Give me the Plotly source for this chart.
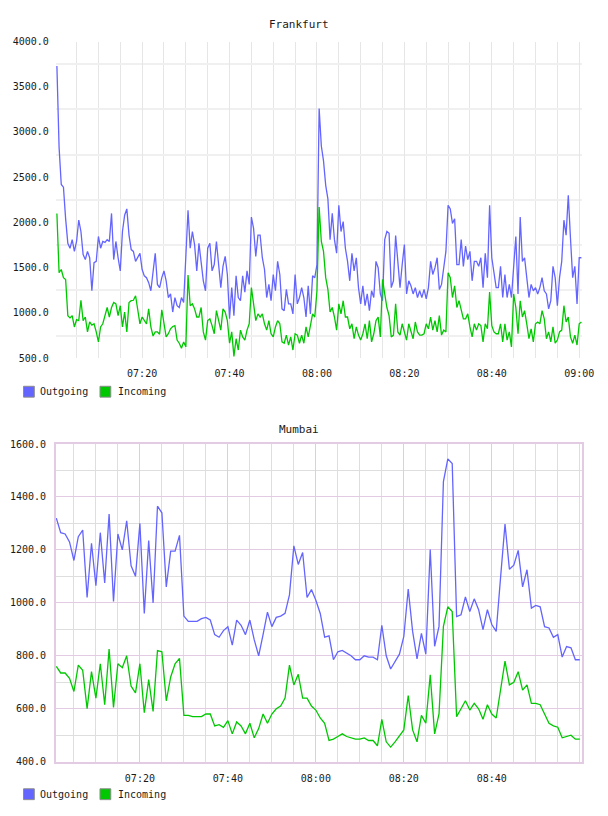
import plotly.graph_objects as go
import pandas as pd

# ---------------- data ----------------
fr_out = [3730, 2830, 2420, 2390, 2040, 1770, 1715, 1810, 1680, 1790,
          2025, 1900, 1645, 1590, 1680, 1610, 1245, 1555, 1570, 1845,
          1715, 1790, 1780, 1810, 1790, 2100, 1590, 1790, 1610, 1465,
          1900, 2080, 2150, 1860, 1700, 1680, 1570, 1625, 1660, 1480,
          1410, 1390, 1335, 1245, 1465, 1660, 1315, 1280, 1390, 1465,
          1355, 1170, 1210, 1010, 1170, 1080, 1060, 1170, 1115, 1610,
          2135,
          1715, 1900, 1755, 1465, 1770, 1535, 1355, 1245, 1715,
          1770, 1465, 1535, 1790, 1535, 1280, 1515, 1625, 1425, 935,
          1280, 970, 1410, 1170, 1135, 1410, 1230, 1465, 1315, 2060,
          1935, 1625, 1860, 1860, 1610, 1480, 1170, 1315, 1135, 1425,
          1245, 1570, 1425, 1045, 1025, 1260, 1100, 1100, 990, 1425,
          1100, 1170, 1280, 1170, 955, 1300, 990, 1410, 1390, 1535,
          3260,
          2845, 2680, 2410, 2260, 1810, 2100, 1810, 1660, 2190,
          1900, 2010, 1715, 1570, 1355, 1660, 1465, 1610, 1280, 1100,
          1300, 1080, 1210, 1025, 1245, 1170, 1570, 1500, 1210, 1135,
          1810, 1900, 1880, 1280, 1355, 1855, 1570, 1280, 1535, 1755,
          1210, 1355, 1300, 1210, 1280, 1170, 1245, 1170, 1260, 1155,
          1280, 1570, 1425, 1500, 1610, 1260, 1315, 1535, 1680, 2190,
          2150, 1990, 2040, 1535, 1535, 1810, 1515, 1740, 1590, 1680,
          1355, 1570, 1570, 1515, 1610, 1280, 1660, 1390, 2190, 1610,
          1465, 1280, 1280, 1515, 1170, 1425, 1170, 1315, 1170, 1570,
          1845, 1210, 2060, 1570, 1610, 1390, 1170, 1315, 1245, 1280,
          1210, 1280, 1390, 1245, 1210, 1045, 1135, 1515, 1390, 1080,
          1390, 1570, 2025, 1860, 2300, 1825, 1390, 1515, 1100, 1610,
          1610]

fr_in = [2100, 1445, 1480, 1390, 1370, 970, 945, 970, 845, 925,
         915, 1140, 915, 955, 790, 900, 865, 880, 790, 680,
         845, 880, 970, 1060, 955, 1060, 1115, 1100, 970, 1080,
         845, 1010, 790, 1115, 1135, 1140, 1190, 1045, 880, 955,
         915, 880, 1045, 845, 745, 790, 790, 765, 1035, 900,
         735, 770, 825, 850, 860, 700, 665, 610, 680, 625,
         1420,
         1080, 1100, 1045, 955, 955, 1060, 790, 700, 915,
         935, 860, 770, 1025, 900, 810, 1045, 1010, 915, 665,
         790, 520, 715, 590, 810, 735, 700, 810, 880, 1280,
         1100, 915, 990, 955, 990, 880, 810, 915, 770, 735,
         845, 915, 880, 680, 665, 755, 645, 735, 590, 770,
         755, 665, 755, 665, 845, 735, 860, 990, 955, 1245,
         2170,
         1790, 1680, 1390, 1260, 1010, 1060, 955, 810, 1100,
         990, 1135, 955, 955, 825, 880, 715, 845, 755, 700,
         770, 880, 715, 915, 680, 770, 915, 955, 735, 1370,
         1210, 1060, 970, 735, 755, 1100, 790, 755, 880, 790,
         700, 880, 790, 715, 900, 790, 755, 755, 770, 880,
         825, 955, 810, 915, 790, 970, 755, 810, 790, 1445,
         1390, 1170, 1300, 1060, 1135, 1025, 935, 935, 990, 845,
         735, 880, 810, 880, 860, 680, 880, 825, 1230, 860,
         790, 770, 770, 880, 680, 880, 700, 790, 625, 1210,
         1060, 770, 1135, 955, 1025, 880, 715, 825, 680, 880,
         900, 880, 1025, 935, 715, 790, 680, 845, 665, 700,
         790, 810, 1080, 900, 955, 735, 665, 755, 645, 880,
         900]

mu_out = [1320, 1265, 1260, 1230, 1160, 1250, 1275, 1020, 1225, 1065,
          1265, 1075, 1335, 1005, 1260, 1200, 1310, 1140, 1100, 1300,
          960, 1235, 1000, 1365, 1340, 1060, 1195, 1195, 1255, 950,
          930, 930, 930, 940, 945, 935, 880, 870, 895, 910,
          840, 935, 915, 880, 935, 860, 800, 880, 965, 910,
          945, 950, 960, 1030, 1215, 1145, 1190, 1020, 1050, 1010,
          960, 870, 875, 785, 815, 820, 810, 800, 785, 785,
          800, 795, 795, 785, 915, 800, 750, 780, 806, 873,
          1052, 892, 788, 885, 806, 1201, 836, 911, 1458, 1544,
          1526, 948, 955, 1022, 967, 1015, 974, 899, 974, 918,
          892, 1097, 1298, 1127, 1142, 1198, 1060, 1125, 980, 990,
          985, 910, 905, 870, 880, 795, 835, 830, 785, 785]

mu_in = [760, 735, 735, 715, 665, 765, 745, 600, 740, 640,
         770, 615, 825, 605, 770, 755, 800, 685, 660, 770,
         585, 710, 590, 820, 815, 630, 720, 770, 790, 575,
         575, 570, 570, 570, 580, 580, 535, 540, 530, 555,
         505, 550, 535, 505, 545, 490, 525, 580, 545, 580,
         600, 610, 640, 765, 690, 730, 640, 640, 610, 595,
         565, 545, 480, 485, 495, 505, 495, 490, 485, 485,
         490, 480, 480, 460, 560, 475, 455, 475, 500, 520,
         650, 520, 475, 575, 545, 728, 505, 580, 911, 985,
         967, 570, 600, 630, 595, 620, 600, 560, 615, 580,
         565, 680, 780, 690, 700, 740, 670, 690, 620, 620,
         615, 580, 545, 535, 530, 490, 495, 500, 485, 485]

fr_times = pd.date_range("2024-01-01 07:00:30", periods=len(fr_out), freq="30s")
mu_times = pd.date_range("2024-01-01 07:01:00", periods=len(mu_out), freq="60s")

fr_yticks = [500, 1000, 1500, 2000, 2500, 3000, 3500, 4000]
fr_ygrid = [750, 1250, 1750, 2250, 2750, 3250, 3750]
mu_yticks = [400, 600, 800, 1000, 1200, 1400, 1600]
mu_ygrid = [500, 700, 900, 1100, 1300, 1500]
fr_xticks = ["2024-01-01 07:20", "2024-01-01 07:40", "2024-01-01 08:00",
             "2024-01-01 08:20", "2024-01-01 08:40", "2024-01-01 09:00"]
mu_xticks = fr_xticks[:5]
series_names = ["Outgoing", "Incoming"]
titles = ["Frankfurt", "Mumbai"]

# ---------------- styling ----------------
W, H = 608, 816
BLUE = "#6464ff"
GREEN = "#00c800"
FONT = "DejaVu Sans Mono"
TXT = "#1a1a1a"
GRID_LIGHT = "#e6e6e6"
GRID_H = "#f0f0f0"
MAJOR = "#e3cbe3"
MINOR = "#dedede"

def px_x(px):
    return px / W

def px_y(py):
    return 1 - py / H

fig = go.Figure()

fig.add_trace(go.Scatter(x=fr_times, y=fr_out, mode="lines", name=series_names[0],
                         line=dict(color=BLUE, width=1.3), xaxis="x", yaxis="y",
                         showlegend=False))
fig.add_trace(go.Scatter(x=fr_times, y=fr_in, mode="lines", name=series_names[1],
                         line=dict(color=GREEN, width=1.3), xaxis="x", yaxis="y",
                         showlegend=False))
fig.add_trace(go.Scatter(x=mu_times, y=mu_out, mode="lines", name=series_names[0],
                         line=dict(color=BLUE, width=1.3), xaxis="x2", yaxis="y2",
                         showlegend=False))
fig.add_trace(go.Scatter(x=mu_times, y=mu_in, mode="lines", name=series_names[1],
                         line=dict(color=GREEN, width=1.3), xaxis="x2", yaxis="y2",
                         showlegend=False))

xdom = [px_x(57), px_x(594)]
tickfont = dict(family=FONT, size=10, color=TXT)

fig.update_layout(
    width=W, height=H,
    margin=dict(l=0, r=0, t=0, b=0),
    paper_bgcolor="white", plot_bgcolor="white",
    hovermode=False,
    xaxis=dict(domain=xdom, anchor="y", type="date",
               range=["2024-01-01 07:00:16", "2024-01-01 09:00:42"],
               tickvals=fr_xticks, tickformat="%H:%M", tickfont=tickfont,
               showgrid=True, gridcolor=GRID_LIGHT, gridwidth=1,
               minor=dict(dtick=300000, tick0="2024-01-01 07:00:00",
                          showgrid=True, gridcolor=GRID_LIGHT, gridwidth=1),
               showline=False, zeroline=False, ticks="", ticklabelstandoff=8),
    yaxis=dict(domain=[px_y(358), px_y(37)], anchor="x",
               range=[500, 4000], tickvals=fr_yticks, tickformat=".1f",
               tickfont=tickfont, showgrid=False,
               minor=dict(tickvals=fr_ygrid, showgrid=True, gridcolor=GRID_H, gridwidth=2),
               showline=False, zeroline=False, ticks="", ticklabelstandoff=6),
    xaxis2=dict(domain=xdom, anchor="y2", type="date",
                range=["2024-01-01 07:00:54", "2024-01-01 09:00:34"],
                tickvals=mu_xticks, tickformat="%H:%M", tickfont=tickfont,
                showgrid=True, gridcolor=MAJOR, gridwidth=1,
                minor=dict(dtick=300000, tick0="2024-01-01 07:00:00",
                           showgrid=True, gridcolor=MINOR, gridwidth=1),
                showline=True, mirror=True, linecolor=MAJOR, linewidth=1.5,
                zeroline=False, ticks="", ticklabelstandoff=7),
    yaxis2=dict(domain=[px_y(767), px_y(445)], anchor="x2",
                range=[400, 1600], tickvals=mu_yticks, tickformat=".1f",
                tickfont=tickfont, showgrid=True, gridcolor=MAJOR, gridwidth=1,
                minor=dict(tickvals=mu_ygrid, showgrid=True, gridcolor=MINOR, gridwidth=1),
                showline=True, mirror=True, linecolor=MAJOR, linewidth=1.5,
                zeroline=False, ticks="", ticklabelstandoff=6),
)

annotations = []
shapes = []
# titles
for title, ty in zip(titles, [20, 430]):
    annotations.append(dict(text=title, x=px_x(305), y=px_y(ty), xref="paper", yref="paper",
                            xanchor="center", yanchor="middle", showarrow=False,
                            font=dict(family=FONT, size=11, color=TXT)))
# legends
for ly in [392, 800]:
    for name, color, sx, tx in zip(series_names, [BLUE, GREEN], [24, 102], [39, 118]):
        shapes.append(dict(type="rect", xref="paper", yref="paper",
                           x0=px_x(sx), x1=px_x(sx + 11), y0=px_y(ly + 5.5), y1=px_y(ly - 5.5),
                           fillcolor=color, line=dict(color="#8c8c8c", width=1)))
        annotations.append(dict(text=name, x=px_x(tx), y=px_y(ly), xref="paper", yref="paper",
                                xanchor="left", yanchor="middle", showarrow=False,
                                font=dict(family=FONT, size=10, color=TXT)))

fig.update_layout(annotations=annotations, shapes=shapes)

fig.write_html("out.html")
